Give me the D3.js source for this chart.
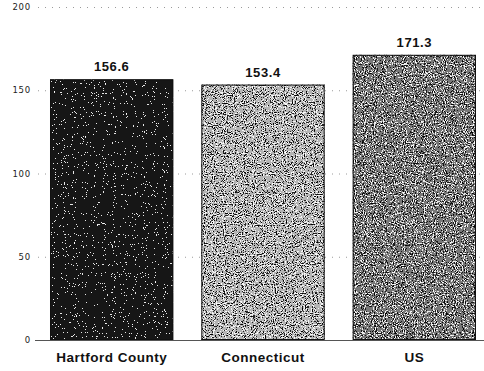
<!DOCTYPE html>
<html>
<head>
<meta charset="utf-8">
<script src="https://cdn.jsdelivr.net/npm/d3@7"></script>
<style>
  html, body { margin: 0; padding: 0; background: #fff; }
  svg { display: block; }
</style>
</head>
<body>
<div id="chart"></div>
<script>
// Chart data
const categories = ["Hartford County", "Connecticut", "US"];
const values = [156.6, 153.4, 171.3];
const tickValues = [0, 50, 100, 150, 200];
const barColors = ["#161616", "#b4b4b4", "#787878"];

const W = 484, H = 371;
const svg = d3.select("#chart").append("svg")
  .attr("width", W).attr("height", H);

// Grainy halftone textures for the bar fills
const defs = svg.append("defs");
function grainFilter(id, whiteTable, blackTable, seed) {
  const f = defs.append("filter").attr("id", id)
    .attr("x", 0).attr("y", 0).attr("width", 1).attr("height", 1)
    .attr("color-interpolation-filters", "sRGB");
  f.append("feTurbulence").attr("type", "fractalNoise")
    .attr("baseFrequency", 0.9).attr("numOctaves", 2).attr("seed", seed).attr("result", "noise");
  // light specks where the noise is high
  f.append("feColorMatrix").attr("in", "noise").attr("type", "matrix")
    .attr("values", "0 0 0 0 1  0 0 0 0 1  0 0 0 0 1  1 0 0 0 0").attr("result", "wA");
  f.append("feComponentTransfer").attr("in", "wA").attr("result", "white")
    .append("feFuncA").attr("type", "discrete").attr("tableValues", whiteTable);
  // dark specks where the noise is low
  f.append("feColorMatrix").attr("in", "noise").attr("type", "matrix")
    .attr("values", "0 0 0 0 0  0 0 0 0 0  0 0 0 0 0  -1 0 0 0 1").attr("result", "bA");
  f.append("feComponentTransfer").attr("in", "bA").attr("result", "black")
    .append("feFuncA").attr("type", "discrete").attr("tableValues", blackTable);
  const merge = f.append("feMerge").attr("result", "m");
  merge.append("feMergeNode").attr("in", "SourceGraphic");
  merge.append("feMergeNode").attr("in", "white");
  merge.append("feMergeNode").attr("in", "black");
  f.append("feComposite").attr("in", "m").attr("in2", "SourceGraphic").attr("operator", "in");
}
grainFilter("grain0", "0 0 0 0 0 0 0 0.9 1 1", "0 0 0 0 0 0 0 0 0 0", 7);
grainFilter("grain1", "0 0 0 0 0 0 0.85 1 1 1", "0 0 0 0 0 0 0.8 1 1 1", 11);
grainFilter("grain2", "0 0 0 0 0 0 0.85 1 1 1", "0 0 0 0 0 0 0.8 1 1 1", 3);

const x = d3.scaleBand()
  .domain(categories)
  .range([36, 490])
  .paddingInner(0.185)
  .paddingOuter(0.0925);

const y = d3.scaleLinear()
  .domain([0, 200])
  .range([340, 7]);

// dotted gridlines
svg.append("g")
  .selectAll("line")
  .data(tickValues.filter(v => v > 0))
  .join("line")
  .attr("x1", 38).attr("x2", W)
  .attr("y1", d => y(d) + 0.5).attr("y2", d => y(d) + 0.5)
  .attr("stroke", "#9a9a9a")
  .attr("stroke-width", 1)
  .attr("stroke-dasharray", "1,6");

// y-axis labels
const yAxis = d3.axisLeft(y).tickValues(tickValues).tickSize(0).tickPadding(0);
const ya = svg.append("g").attr("transform", "translate(31,0)").call(yAxis);
ya.select(".domain").remove();
ya.selectAll("text")
  .attr("font-family", "DejaVu Sans, sans-serif")
  .attr("font-size", 8.5)
  .attr("letter-spacing", 0.8)
  .attr("fill", "#222");

// bars
svg.append("g")
  .selectAll("rect")
  .data(values)
  .join("rect")
  .attr("x", (d, i) => x(categories[i]))
  .attr("width", x.bandwidth())
  .attr("y", d => y(d))
  .attr("height", d => y(0) - y(d))
  .attr("fill", (d, i) => barColors[i])
  .attr("filter", (d, i) => `url(#grain${i})`);

svg.append("g")
  .selectAll("rect")
  .data(values)
  .join("rect")
  .attr("x", (d, i) => x(categories[i]) + 0.5)
  .attr("width", x.bandwidth() - 1)
  .attr("y", d => y(d) + 0.5)
  .attr("height", d => y(0) - y(d) - 1)
  .attr("fill", "none")
  .attr("stroke", "#111")
  .attr("stroke-width", 1);

// baseline
svg.append("line")
  .attr("x1", 35).attr("x2", W)
  .attr("y1", y(0) + 0.5).attr("y2", y(0) + 0.5)
  .attr("stroke", "#555")
  .attr("stroke-width", 1);

// value labels
svg.append("g")
  .selectAll("text")
  .data(values)
  .join("text")
  .attr("x", (d, i) => x(categories[i]) + x.bandwidth() / 2)
  .attr("y", d => y(d) - 8)
  .attr("text-anchor", "middle")
  .attr("font-family", "Liberation Sans, Arial, sans-serif")
  .attr("font-weight", "bold")
  .attr("font-size", 13)
  .attr("letter-spacing", 0.6)
  .attr("fill", "#111")
  .text(d => d.toFixed(1));

// category labels
svg.append("g")
  .selectAll("text")
  .data(categories)
  .join("text")
  .attr("x", d => x(d) + x.bandwidth() / 2)
  .attr("y", 362)
  .attr("text-anchor", "middle")
  .attr("font-family", "Liberation Sans, Arial, sans-serif")
  .attr("font-weight", "bold")
  .attr("font-size", 13.5)
  .attr("letter-spacing", 0.5)
  .attr("fill", "#111")
  .text(d => d);
</script>
</body>
</html>
